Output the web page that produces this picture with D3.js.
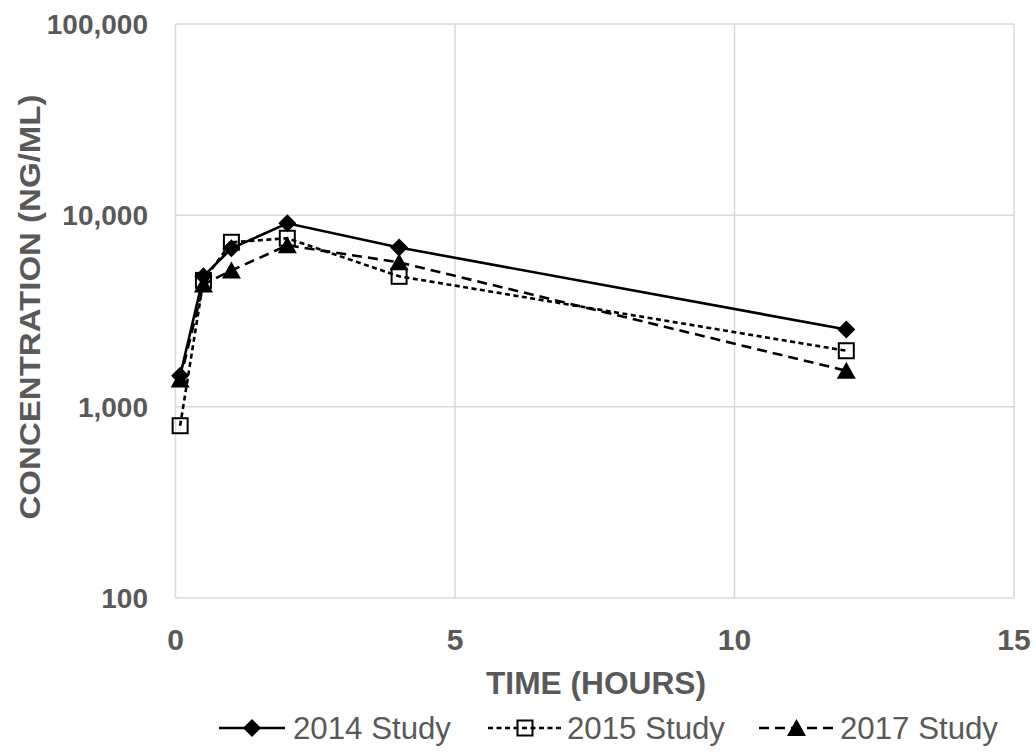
<!DOCTYPE html>
<html><head><meta charset="utf-8">
<script src="https://cdn.jsdelivr.net/npm/d3@7"></script>
<style>
body{margin:0;background:#fff;}
text{font-family:"Liberation Sans",Arial,sans-serif;}
</style></head>
<body><svg id="c" width="1036" height="752"></svg>
<script>
const times = [0.083, 0.5, 1, 2, 4, 12];
const study2014 = [1450, 4800, 6720, 9080, 6790, 2530];
const study2015 = [795, 4570, 7230, 7590, 4800, 1960];
const study2017 = [1385, 4350, 5150, 6970, 5680, 1540];
const seriesNames = ["2014 Study", "2015 Study", "2017 Study"];
const xTicks = [0, 5, 10, 15];
const yTicks = [100, 1000, 10000, 100000];

const svg = d3.select("#c");
const L = 175.5, R = 1014, T = 24, B = 598;
const x = d3.scaleLinear().domain([0, 15]).range([L, R]);
const y = d3.scaleLog().domain([100, 100000]).range([B, T]);
const grey = "#595959";

// grid
svg.append("g").selectAll("line").data(yTicks).join("line")
  .attr("x1", L).attr("x2", R).attr("y1", d => y(d)).attr("y2", d => y(d))
  .attr("stroke", "#d9d9d9").attr("stroke-width", 1.5);
svg.append("g").selectAll("line").data(xTicks).join("line")
  .attr("x1", d => x(d)).attr("x2", d => x(d)).attr("y1", T).attr("y2", B)
  .attr("stroke", "#d9d9d9").attr("stroke-width", 1.5);

// axes labels
const fmt = d3.format(",");
svg.append("g").selectAll("text").data(yTicks).join("text")
  .attr("x", 148).attr("y", d => y(d)).attr("dy", "0.36em")
  .attr("text-anchor", "end").attr("font-size", 28).attr("font-weight", "bold")
  .attr("fill", grey).text(d => fmt(d));
svg.append("g").selectAll("text").data(xTicks).join("text")
  .attr("x", d => x(d)).attr("y", 639).attr("dy", "0.36em")
  .attr("text-anchor", "middle").attr("font-size", 30).attr("font-weight", "bold")
  .attr("fill", grey).text(d => d);
svg.append("text").attr("x", 596).attr("y", 683).attr("dy", "0.36em")
  .attr("text-anchor", "middle").attr("font-size", 31).attr("font-weight", "bold")
  .attr("textLength", 220).attr("lengthAdjust", "spacingAndGlyphs")
  .attr("fill", grey).text("TIME (HOURS)");
svg.append("text").attr("transform", `translate(29,307) rotate(-90)`)
  .attr("dy", "0.36em").attr("text-anchor", "middle").attr("font-size", 30)
  .attr("textLength", 425).attr("lengthAdjust", "spacingAndGlyphs")
  .attr("font-weight", "bold").attr("fill", grey).text("CONCENTRATION (NG/ML)");

const series = [
  {name: seriesNames[0], vals: study2014, dash: null, sym: "diamond"},
  {name: seriesNames[1], vals: study2015, dash: "5,3.5", sym: "square"},
  {name: seriesNames[2], vals: study2017, dash: "10,6", sym: "triangle"}
];

function drawSym(g, sym, cx, cy) {
  if (sym === "diamond") {
    g.append("path").attr("d", `M${cx},${cy-9}L${cx+9},${cy}L${cx},${cy+9}L${cx-9},${cy}Z`).attr("fill", "#000");
  } else if (sym === "square") {
    g.append("rect").attr("x", cx - 7.5).attr("y", cy - 7.5).attr("width", 15).attr("height", 15)
      .attr("fill", "none").attr("stroke", "#000").attr("stroke-width", 2);
  } else {
    g.append("path").attr("d", `M${cx},${cy-9}L${cx+9.5},${cy+8}L${cx-9.5},${cy+8}Z`).attr("fill", "#000");
  }
}

const line = d3.line().x(d => x(d[0])).y(d => y(d[1]));
series.forEach(s => {
  const pts = times.map((t, i) => [t, s.vals[i]]);
  svg.append("path").datum(pts).attr("d", line).attr("fill", "none")
    .attr("stroke", "#000").attr("stroke-width", 2.6)
    .attr("stroke-dasharray", s.dash);
  const g = svg.append("g");
  pts.forEach(p => drawSym(g, s.sym, x(p[0]), y(p[1])));
});

// legend
const legLine = [[219, 285], [488, 562], [759, 834]];
const legText = [293, 567, 840];
const lg = svg.append("g");
series.forEach((s, i) => {
  const yy = 728;
  const [a, b] = legLine[i];
  lg.append("line").attr("x1", a).attr("x2", b).attr("y1", yy).attr("y2", yy)
    .attr("stroke", "#000").attr("stroke-width", 2.6).attr("stroke-dasharray", s.dash);
  drawSym(lg, s.sym, (a + b) / 2, yy);
  lg.append("text").attr("x", legText[i]).attr("y", yy).attr("dy", "0.36em")
    .attr("font-size", 31).attr("fill", grey)
    .attr("textLength", 158).attr("lengthAdjust", "spacingAndGlyphs").text(s.name);
});
</script></body></html>
